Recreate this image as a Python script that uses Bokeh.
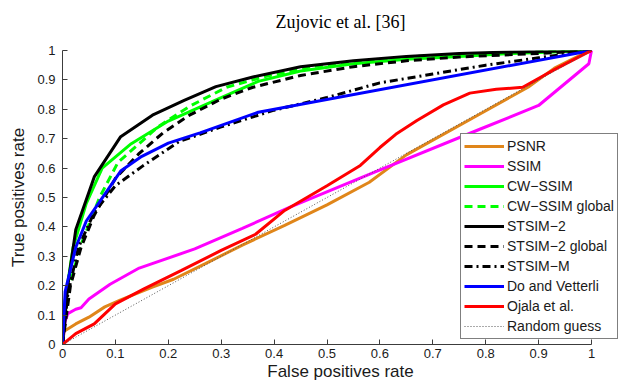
from bokeh.plotting import figure
from bokeh.models import Legend, LegendItem, FixedTicker, Title
from bokeh.embed import file_html
from bokeh.resources import INLINE

# ---- data ----
tick_vals = [0, 0.1, 0.2, 0.3, 0.4, 0.5, 0.6, 0.7, 0.8, 0.9, 1]
tick_labels = ["0", "0.1", "0.2", "0.3", "0.4", "0.5", "0.6", "0.7", "0.8", "0.9", "1"]

psnr_x = [0, 0.003, 0.025, 0.05, 0.08, 0.11, 0.17, 0.21, 0.27, 0.34, 0.42, 0.5, 0.58, 0.65, 0.79, 0.88, 0.93, 0.98, 1]
psnr_y = [0, 0.045, 0.07, 0.093, 0.128, 0.152, 0.195, 0.222, 0.275, 0.338, 0.405, 0.475, 0.552, 0.645, 0.785, 0.875, 0.94, 0.985, 1]

ssim_x = [0, 0.005, 0.01, 0.025, 0.035, 0.05, 0.09, 0.145, 0.25, 0.34, 0.43, 0.59, 0.79, 0.9, 0.995, 1]
ssim_y = [0, 0.08, 0.105, 0.12, 0.125, 0.155, 0.205, 0.26, 0.325, 0.395, 0.467, 0.586, 0.733, 0.813, 0.955, 1]

cwssim_x = [0, 0.005, 0.02, 0.045, 0.075, 0.13, 0.2, 0.3, 0.37, 0.45, 0.55, 0.65, 0.75, 0.85, 1]
cwssim_y = [0, 0.15, 0.33, 0.48, 0.6, 0.683, 0.76, 0.84, 0.895, 0.93, 0.955, 0.97, 0.98, 0.99, 1]

cwssim_g_x = [0, 0.01, 0.035, 0.07, 0.105, 0.14, 0.18, 0.24, 0.31, 0.38, 0.47, 0.57, 0.67, 0.8, 1]
cwssim_g_y = [0, 0.18, 0.34, 0.5, 0.62, 0.675, 0.74, 0.81, 0.875, 0.91, 0.945, 0.965, 0.98, 0.99, 1]

stsim2_x = [0, 0.01, 0.025, 0.06, 0.11, 0.17, 0.23, 0.29, 0.36, 0.45, 0.55, 0.65, 0.75, 0.85, 1]
stsim2_y = [0, 0.2, 0.39, 0.57, 0.707, 0.78, 0.83, 0.877, 0.91, 0.945, 0.965, 0.98, 0.99, 0.995, 1]

stsim2_g_x = [0, 0.015, 0.035, 0.06, 0.1, 0.145, 0.19, 0.24, 0.3, 0.36, 0.45, 0.55, 0.65, 0.75, 0.9, 1]
stsim2_g_y = [0, 0.2, 0.33, 0.44, 0.565, 0.65, 0.72, 0.78, 0.835, 0.875, 0.915, 0.945, 0.965, 0.978, 0.99, 1]

stsimm_x = [0, 0.01, 0.03, 0.06, 0.1, 0.15, 0.22, 0.3, 0.4, 0.5, 0.6, 0.7, 0.8, 0.9, 1]
stsimm_y = [0, 0.17, 0.33, 0.45, 0.54, 0.605, 0.69, 0.74, 0.797, 0.84, 0.89, 0.92, 0.95, 0.975, 1]

dv_x = [0, 0.005, 0.025, 0.045, 0.07, 0.11, 0.15, 0.2, 0.26, 0.37, 1]
dv_y = [0, 0.18, 0.33, 0.42, 0.485, 0.59, 0.64, 0.685, 0.72, 0.79, 1]

ojala_x = [0, 0.025, 0.06, 0.1, 0.155, 0.225, 0.3, 0.365, 0.42, 0.5, 0.563, 0.6, 0.63, 0.67, 0.72, 0.77, 0.82, 0.87, 0.93, 1]
ojala_y = [0, 0.037, 0.07, 0.138, 0.19, 0.252, 0.32, 0.375, 0.456, 0.54, 0.609, 0.67, 0.715, 0.762, 0.815, 0.855, 0.868, 0.875, 0.935, 1]

rand_x = [0, 1]
rand_y = [0, 1]

names = ["PSNR", "SSIM", "CW\u2212SSIM", "CW\u2212SSIM global", "STSIM\u22122",
         "STSIM\u22122 global", "STSIM\u2212M", "Do and Vetterli", "Ojala et al.", "Random guess"]

series = [
    (psnr_x, psnr_y, "#E0861A", 3, None),
    (ssim_x, ssim_y, "#FF00FF", 3, None),
    (cwssim_x, cwssim_y, "#00FF00", 3, None),
    (cwssim_g_x, cwssim_g_y, "#00FF00", 3, "8 5"),
    (stsim2_x, stsim2_y, "#000000", 3, None),
    (stsim2_g_x, stsim2_g_y, "#000000", 3, "8 5"),
    (stsimm_x, stsimm_y, "#000000", 3, "8 4 2 4"),
    (dv_x, dv_y, "#0000FF", 3, None),
    (ojala_x, ojala_y, "#FF0000", 3, None),
    (rand_x, rand_y, "#555555", 1, "1 2"),
]

FONT = "Liberation Sans"

W, H = 618, 383
LEFT, TOP, BOTTOM = 62, 50, 39
frame_w = W - LEFT
x_end = frame_w / 529.0  # x = 1 lands 529 px right of the y axis

p = figure(width=W, height=H, x_range=(0, x_end), y_range=(0, 1),
           output_backend="svg", toolbar_location=None,
           min_border_left=LEFT, min_border_right=0, min_border_top=TOP, min_border_bottom=BOTTOM)

p.title.text = "Zujovic et al. [36]"
p.title.align = "center"
p.title.text_font = "Liberation Serif"
p.title.text_font_size = "18px"
p.title.text_font_style = "normal"
p.title.text_color = "#000000"

# small blank spacer between the title and the frame, to lift the title
p.add_layout(Title(text=" ", text_font_size="2px"), "above")

p.xgrid.visible = False
p.ygrid.visible = False
p.outline_line_color = None
p.background_fill_color = "white"
p.border_fill_color = "white"

for ax in (p.xaxis[0], p.yaxis[0]):
    ax.ticker = FixedTicker(ticks=tick_vals)
    ax.bounds = (0, 1)
    ax.major_label_overrides = {v: l for v, l in zip(tick_vals, tick_labels)}
    ax.major_tick_in = 5
    ax.major_tick_out = 0
    ax.minor_tick_in = 0
    ax.minor_tick_out = 0
    ax.axis_line_color = "#3c3c3c"
    ax.major_tick_line_color = "#3c3c3c"
    ax.major_label_text_font = FONT
    ax.major_label_text_font_size = "13px"
    ax.major_label_text_color = "#1a1a1a"
    ax.axis_label_text_font = FONT
    ax.axis_label_text_font_size = "17px"
    ax.axis_label_text_font_style = "normal"
    ax.axis_label_text_color = "#1a1a1a"

p.xaxis.axis_label = "False positives rate"
p.yaxis.axis_label = "True positives rate"
p.xaxis.major_label_standoff = 4
p.xaxis.axis_label_standoff = 1
p.yaxis.major_label_standoff = 7
p.yaxis.axis_label_standoff = 6

items = []
for name, (xs, ys, col, lw, dash) in zip(names, series):
    kw = dict(line_color=col, line_width=lw)
    if dash:
        kw["line_dash"] = dash
    r = p.line(xs, ys, **kw)
    items.append(LegendItem(label=name, renderers=[r]))

legend = Legend(items=items, location=(398, 5))
legend.border_line_color = "black"
legend.border_line_width = 1
legend.background_fill_color = "white"
legend.background_fill_alpha = 1
legend.label_text_font = FONT
legend.label_text_font_size = "14px"
legend.label_text_color = "#1a1a1a"
legend.glyph_width = 40
legend.glyph_height = 18
legend.label_height = 18
legend.spacing = 2
legend.padding = 3
legend.margin = 0
legend.label_standoff = 3
p.add_layout(legend)

open("out.html", "w").write(file_html(p, INLINE))
